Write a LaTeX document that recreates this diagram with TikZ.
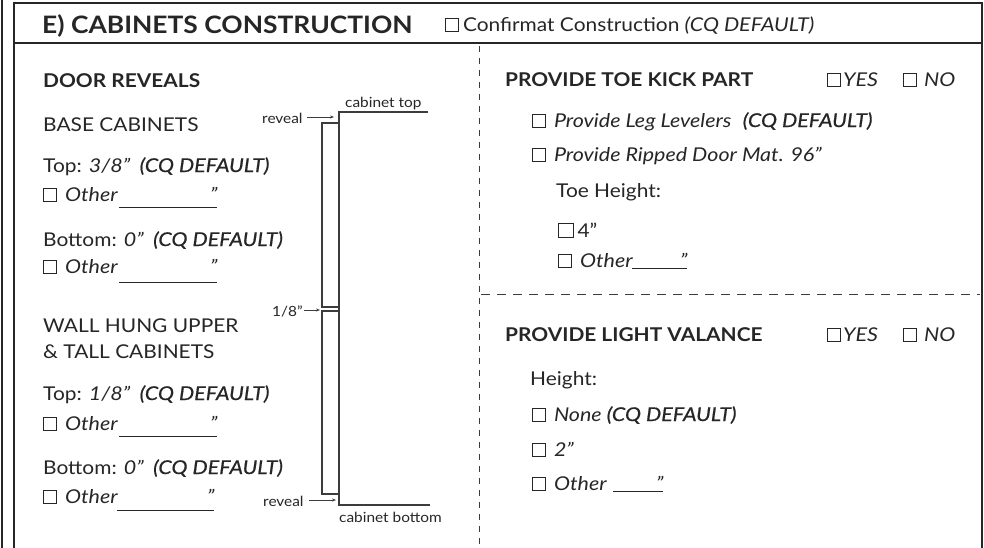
\documentclass[tikz,border=0pt]{standalone}
\usepackage{fontspec}
\setmainfont{Lato}[FakeStretch=1.1, ItalicFeatures={FakeStretch=1.13}]
\usetikzlibrary{arrows.meta}
\definecolor{ink}{RGB}{38,38,38}
\definecolor{linegray}{RGB}{60,60,60}
\newcommand\cbx[1][12pt]{{\setlength\fboxsep{0pt}\setlength\fboxrule{0.9pt}\fbox{\rule{0pt}{#1}\hspace{#1}}}}
\newcommand\cbs{\cbx\hspace{8pt}}
\newcommand\cqd{\textit{\addfontfeature{FakeBold=0.6}(CQ DEFAULT)}}
\begin{document}
\begin{tikzpicture}[x=1pt,y=-1pt,
  txt/.style={anchor=base west, inner sep=0pt, text=ink, font=\fontsize{19}{22}\selectfont},
  hd/.style={txt, font=\fontsize{19}{22}\selectfont\bfseries},
  ttl/.style={txt, font=\fontsize{24}{28}\selectfont\bfseries},
  sm/.style={txt, font=\fontsize{14}{16}\selectfont},
  frame/.style={draw=ink, line width=2.5pt},
  uline/.style={draw=ink, line width=0.8pt},
  door/.style={draw=linegray, line width=1.3pt},
  arr/.style={draw=linegray, line width=0.8pt, -{Stealth[length=4pt,width=3pt]}},
  vdash/.style={draw=linegray, line width=0.8pt, dash pattern=on 6pt off 6pt},
  hdash/.style={draw=linegray, line width=0.8pt, dash pattern=on 9pt off 7pt}]
\useasboundingbox (0,0) rectangle (984,547);
\fill[white] (0,0) rectangle (984,547);
% frame
\draw[frame, line width=2pt] (1.5,-5) -- (1.5,560);
\draw[frame] (14,560) -- (14,3) -- (982,3) -- (982,560);
\draw[frame, line width=2pt] (14,43) -- (982,43);
\draw[vdash] (479,46) -- (479,560);
\draw[hdash] (481,294) -- (980,294);
% header
\node[ttl] (title) at (42,33) {E) CABINETS CONSTRUCTION};
\node[txt, font=\fontsize{19}{21}\selectfont] (conf) at (445,31) {\cbx\hspace{4pt}Confirmat Construction \textit{(CQ DEFAULT)}};
% left column
\node[hd] (dr) at (43,87) {DOOR REVEALS};
\node[txt] (base) at (43,131) {BASE CABINETS};
\node[txt] (btop) at (43,172) {Top: \textit{3/8”}\hspace{0.5em}\cqd};
\node[txt] (bto) at (43,201) {\cbs\textit{Other}};
\draw[uline] (119,207) -- (217,207);
\node[txt] (btoq) at (210,201) {\textit{”}};
\node[txt] (bbot) at (43,246) {Bottom: \textit{0”}\hspace{0.5em}\cqd};
\node[txt] (bbo) at (43,273) {\cbs\textit{Other}};
\draw[uline] (119,282) -- (217,282);
\node[txt] (bboq) at (210,273) {\textit{”}};
\node[txt] (wall1) at (43,332) {WALL HUNG UPPER};
\node[txt] (wall2) at (43,358) {\& TALL CABINETS};
\node[txt] (wtop) at (43,400) {Top: \textit{1/8”}\hspace{0.5em}\cqd};
\node[txt] (wto) at (43,430) {\cbs\textit{Other}};
\draw[uline] (119,436) -- (217,436);
\node[txt] (wtoq) at (210,430) {\textit{”}};
\node[txt] (wbot) at (43,474) {Bottom: \textit{0”}\hspace{0.5em}\cqd};
\node[txt] (wbo) at (43,503) {\cbs\textit{Other}};
\draw[uline] (117,510) -- (214,510);
\node[txt] (wboq) at (207,503) {\textit{”}};
% door diagram
\coordinate (ct1) at (339,112);
\coordinate (ct2) at (428,112);
\coordinate (cb1) at (339,505);
\coordinate (cb2) at (430,505);
\draw[door] (ct2) -- (ct1) -- (cb1) -- (cb2);
\draw[door] (322,123) rectangle (339,307);
\draw[door] (322,311) rectangle (339,494);
\coordinate (pt1) at (334,117);
\coordinate (pt2) at (320,310);
\coordinate (pt3) at (336,500);
\node[sm] (ctop) at (345,107) {cabinet top};
\node[sm] (rtop) at (262,123) {reveal};
\node[sm] (eighth) at (272,316) {1/8”};
\node[sm] (rbot) at (263,506) {reveal};
\node[sm] (cbot) at (339,522) {cabinet bottom};
\draw[arr] ([xshift=4pt]rtop.east |- pt1) -- (pt1);
\draw[arr] ([xshift=1pt]eighth.east |- pt2) -- (pt2);
\draw[arr] ([xshift=5pt]rbot.east |- pt3) -- (pt3);
% right column
\node[hd] (toe) at (505,86) {PROVIDE TOE KICK PART};
\node[txt] (toeyes) at (827,86) {\cbx\hspace{2pt}\textit{YES}};
\node[txt] (toeno) at (903,86) {\cbx\hspace{7pt}\textit{NO}};
\node[txt] (leg) at (532,127) {\cbs\textit{Provide Leg Levelers}\hspace{0.6em}\cqd};
\node[txt] (rip) at (532,161) {\cbs\textit{Provide Ripped Door Mat. 96”}};
\node[txt] (toeh) at (556,197) {Toe Height:};
\node[txt] (four) at (558,237) {\cbx[13.5pt]\hspace{4pt}4”};
\node[txt] (toeo) at (558,267) {\cbs\textit{Other}};
\draw[uline] (632,268) -- (687,268);
\node[txt] (toeoq) at (680,267) {\textit{”}};
\node[hd] (light) at (505,341) {PROVIDE LIGHT VALANCE};
\node[txt] (lyes) at (827,341) {\cbx\hspace{2pt}\textit{YES}};
\node[txt] (lno) at (903,341) {\cbx\hspace{7pt}\textit{NO}};
\node[txt] (hgt) at (530,385) {Height:};
\node[txt] (none) at (532,421) {\cbs\textit{None }\cqd};
\node[txt] (two) at (532,456) {\cbs\textit{2”}};
\node[txt] (lo) at (532,490) {\cbs\textit{Other}};
\draw[uline] (613,491) -- (663,491);
\node[txt] (loq) at (656,490) {\textit{”}};
\end{tikzpicture}
\end{document}
